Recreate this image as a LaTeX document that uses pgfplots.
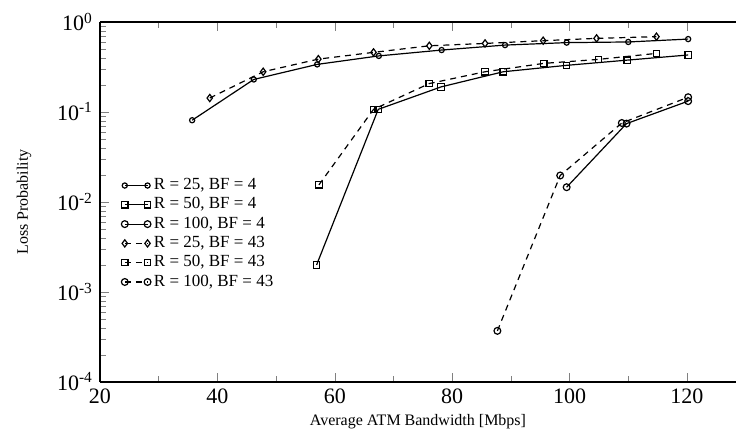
\documentclass[border=0pt]{standalone}
\usepackage{fontspec}
\setmainfont{Liberation Serif}
\usepackage{pgfplots}
\pgfplotsset{compat=1.18}
\usetikzlibrary{calc}
\begin{document}
\begin{tikzpicture}
\begin{axis}[
  name=ax,
  width=318pt, height=180pt, scale only axis,
  xmin=20, xmax=128.35,
  ymode=log, ymin=1e-4, ymax=1,
  axis x line*=box, axis y line*=left,
  axis line style={-, line width=0.8pt},
  tick align=inside,
  xtick={20,40,60,80,100,120},
  minor x tick num=1,
  ytick={1e-4,1e-3,1e-2,1e-1,1},
  yticklabels={10\textsuperscript{-4},10\textsuperscript{-3},10\textsuperscript{-2},10\textsuperscript{-1},10\textsuperscript{0}},
  /pgf/number format/assume math mode=true,
  tick label style={font=\fontsize{11}{12}\selectfont},
  xlabel={Average ATM Bandwidth [Mbps]},
  ylabel={Loss Probability},
  label style={font=\fontsize{8}{9}\selectfont},
  x label style={at={(axis description cs:0.5,-0.111)},anchor=center},
  y label style={at={(axis description cs:-0.1195,0.5)},anchor=center},
  legend style={draw=none, fill=none, at={(rel axis cs:0.033,0.575)}, anchor=north west,
    font=\fontsize{8.5}{10}\selectfont, inner sep=0pt, row sep=-0.5pt,
    nodes={inner sep=1.5pt}},
  legend cell align=left,
  legend image code/.code={\draw[#1] plot coordinates {(0cm,0cm) (0.4cm,0cm)};},
  every axis plot/.append style={black, line width=0.6pt},
]
\addplot[solid, mark=o, mark size=1.3pt, mark options={solid}] coordinates {
(35.7,0.081) (46.2,0.23) (57.0,0.338) (67.5,0.42) (78.2,0.488) (89.0,0.554) (99.5,0.59) (110.0,0.60) (120.2,0.646)};
\addlegendentry{R = 25, BF = 4}
\addplot[solid, mark=square, mark size=1.6pt, mark options={solid}] coordinates {
(56.9,0.0020) (67.4,0.107) (78.1,0.19) (88.7,0.28) (99.5,0.33) (109.8,0.377) (120.2,0.43)};
\addlegendentry{R = 50, BF = 4}
\addplot[solid, mark=o, mark size=1.7pt, mark options={solid}] coordinates {
(99.5,0.0146) (109.7,0.0743) (120.2,0.132)};
\addlegendentry{R = 100, BF = 4}
\addplot[dash pattern=on 3pt off 2.5pt, mark=diamond, mark size=1.8pt, mark options={solid}] coordinates {
(38.7,0.143) (47.8,0.28) (57.2,0.387) (66.6,0.46) (76.1,0.544) (85.6,0.578) (95.5,0.62) (104.6,0.658) (114.8,0.687)};
\addlegendentry{R = 25, BF = 43}
\addplot[dash pattern=on 3pt off 2.5pt, mark=square, mark size=1.6pt, mark options={solid}] coordinates {
(57.3,0.0155) (66.6,0.107) (76.1,0.207) (85.6,0.28) (95.6,0.347) (104.9,0.384) (114.8,0.448)};
\addlegendentry{R = 50, BF = 43}
\addplot[dash pattern=on 3pt off 2.5pt, mark=o, mark size=1.7pt, mark options={solid}] coordinates {
(87.7,0.00037) (98.4,0.0197) (108.9,0.0755) (120.2,0.146)};
\addlegendentry{R = 100, BF = 43}
\end{axis}
\pgfresetboundingbox
\path ($(ax.south west)+(-50pt,-32.5pt)$) rectangle ($(ax.north east)+(0pt,11pt)$);
\end{tikzpicture}
\end{document}
